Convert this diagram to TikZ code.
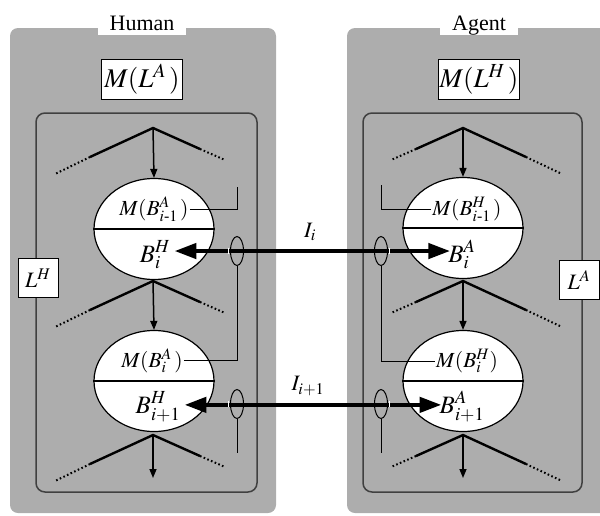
\documentclass[tikz,border=0pt]{standalone}
\usepackage{amsmath}
\usepackage{mathptmx}
\usepackage[no-math]{fontspec}
\setmainfont{Liberation Serif}
\usetikzlibrary{arrows.meta,shapes.geometric}
\tikzset{
  panel/.style={fill=gray!64, rounded corners=8pt},
  innerbox/.style={draw=black!75, line width=1.5pt, rounded corners=9pt},
  titlelbl/.style={fill=white, inner xsep=12pt, inner ysep=1pt, text depth=4pt, anchor=base, font=\fontsize{22}{26}\selectfont},
  mbox/.style={draw, line width=1pt, fill=white, inner sep=0pt, minimum width=81pt, minimum height=40pt, font=\fontsize{27}{30}\selectfont},
  lbox/.style={draw, line width=1pt, fill=white, inner sep=0pt, minimum width=40pt, minimum height=39pt, font=\fontsize{22}{26}\selectfont},
  ell/.style={ellipse, draw, fill=white, line width=1.2pt, minimum width=120pt, minimum height=101pt, inner sep=0pt},
  uptxt/.style={anchor=base, inner sep=1pt, font=\fontsize{21.5}{24}\selectfont},
  lotxt/.style={anchor=base, inner sep=1pt, font=\fontsize{25}{28}\selectfont},
  vsolid/.style={line width=2.4pt},
  vdots/.style={line width=2pt, dash pattern=on 1.6pt off 2.4pt},
  downarr/.style={-{Triangle[length=9pt,width=7pt]}, line width=1.5pt},
  thinln/.style={line width=0.8pt},
  bigarr/.style={{Triangle[length=22pt,width=15pt]}-{Triangle[length=22pt,width=15pt]}, line width=4.5pt},
  oval/.style={ellipse, draw, line width=1pt, minimum width=13pt, minimum height=29pt, inner sep=0pt},
  ilbl/.style={font=\fontsize{22}{26}\selectfont},
}
\begin{document}
\begin{tikzpicture}[x=1pt,y=-1pt]
\useasboundingbox (0,0) rectangle (600,515);
% panels
\fill[panel] (10,28) rectangle (276,513);
\begin{scope}
  \clip (0,0) rectangle (600,515);
  \fill[panel] (347,28) rectangle (614,513);
\end{scope}
\node[titlelbl] (human) at (142,30) {Human};
\node[titlelbl] (agent) at (479,30) {Agent};
\node[mbox] (mla) at (142,79) {$M(L^{A}\,)$};
\node[mbox] (mlh) at (479,79) {$M(L^{H}\,)$};
\draw[innerbox] (36,113) rectangle (257,492);
\draw[innerbox] (363,113) rectangle (582,492);
\node[lbox] (lh) at (38,278) {$L^{H}$};
\node[lbox] (la) at (579,280) {$L^{A}$};

% V shapes, left
\foreach \a/\n in {128/1,281/2,435/3}{
  \coordinate (LA\n) at (153,\a);
  \coordinate (LLs\n) at (90,\a+29);
  \coordinate (LLe\n) at (55,\a+46);
  \coordinate (LRs\n) at (200,\a+21);
  \coordinate (LRe\n) at (225,\a+32);
  \draw[vsolid] (LLs\n) -- (LA\n) -- (LRs\n);
  \draw[vdots] (LLs\n) -- (LLe\n);
  \draw[vdots] (LRs\n) -- (LRe\n);
}
% V shapes, right
\foreach \a/\n in {128/1,281/2,435/3}{
  \coordinate (RA\n) at (463,\a);
  \coordinate (RLs\n) at (416,\a+21);
  \coordinate (RLe\n) at (391,\a+32);
  \coordinate (RRs\n) at (526,\a+29);
  \coordinate (RRe\n) at (562,\a+46);
  \draw[vsolid] (RLs\n) -- (RA\n) -- (RRs\n);
  \draw[vdots] (RLs\n) -- (RLe\n);
  \draw[vdots] (RRs\n) -- (RRe\n);
}

% ellipses left
\node[ell] (E1) at (154,229) {};
\node[ell] (E2) at (154,381) {};
\draw[line width=1.2pt] (E1.west) -- (E1.east);
\draw[line width=1.2pt] (E2.west) -- (E2.east);
\node[uptxt] (E1t) at (154,215) {$M(B^{A}_{i\text{-}1}\,)$};
\node[lotxt] (E1b) at (155,262) {$B^{H}_{i}$};
\node[uptxt] (E2t) at (152,367) {$M(B^{A}_{i}\,)$};
\node[lotxt] (E2b) at (158,413) {$B^{H}_{i+1}$};
% ellipses right
\node[ell] (F1) at (463,228) {};
\node[ell] (F2) at (463,381) {};
\draw[line width=1.2pt] (F1.west) -- (F1.east);
\draw[line width=1.2pt] (F2.west) -- (F2.east);
\node[uptxt] (F1t) at (467,215) {$M(B^{H}_{i\text{-}1}\,)$};
\node[lotxt] (F1b) at (462,262) {$B^{A}_{i}$};
\node[uptxt] (F2t) at (467,367) {$M(B^{H}_{i})$};
\node[lotxt] (F2b) at (462,413) {$B^{A}_{i+1}$};

% down arrows
\coordinate (LD3) at (153,478);
\coordinate (RD3) at (463,478);
\draw[downarr] (LA1) -- (E1.north);
\draw[downarr] (LA2) -- (E2.north);
\draw[downarr] (LA3) -- (LD3);
\draw[downarr] (RA1) -- (F1.north);
\draw[downarr] (RA2) -- (F2.north);
\draw[downarr] (RA3) -- (RD3);

% big arrows
\draw[bigarr] ([xshift=3pt,yshift=4pt]E1b.east) -- ([xshift=3pt,yshift=4pt]E1b.east -| F1b.west);
\draw[bigarr] ([xshift=3pt,yshift=2pt]E2b.east) -- ([xshift=3pt,yshift=2pt]E2b.east -| F2b.west);
\node[ilbl] (Ii) at (310,232) {$I_{i}$};
\node[ilbl] (Ii1) at (308,386) {$I_{i+1}$};

% ovals
\node[oval] (O1L) at (237,251) {};
\node[oval] (O2L) at (237,404) {};
\node[oval] (O1R) at (381,251) {};
\node[oval] (O2R) at (381,404) {};
\draw[white, line width=1.3pt] ([xshift=-1.2pt]O1L.west) ++(0,-2.6) -- ++(0,5.2);
\draw[white, line width=1.3pt] ([xshift=-1.2pt]O2L.west) ++(0,-2.6) -- ++(0,5.2);
\draw[white, line width=1.3pt] ([xshift=1.2pt]O1R.east) ++(0,-2.6) -- ++(0,5.2);
\draw[white, line width=1.3pt] ([xshift=1.2pt]O2R.east) ++(0,-2.6) -- ++(0,5.2);

% thin lines left
\coordinate (L1top) at (237,187);
\coordinate (L3end) at (237,453);
\draw[thinln] (E1t.east) -- (E1t.east -| L1top) -- (L1top);
\draw[thinln] (E2t.east) -- (E2t.east -| O1L.south) -- (O1L.south);
\draw[thinln] (O2L.south) -- (L3end);
% thin lines right
\coordinate (R1top) at (381,185);
\coordinate (R3end) at (381,453);
\draw[thinln] (F1t.west) -- (F1t.west -| R1top) -- (R1top);
\draw[thinln] (F2t.west) -- (F2t.west -| O1R.south) -- (O1R.south);
\draw[thinln] (O2R.south) -- (R3end);
\end{tikzpicture}
\end{document}
